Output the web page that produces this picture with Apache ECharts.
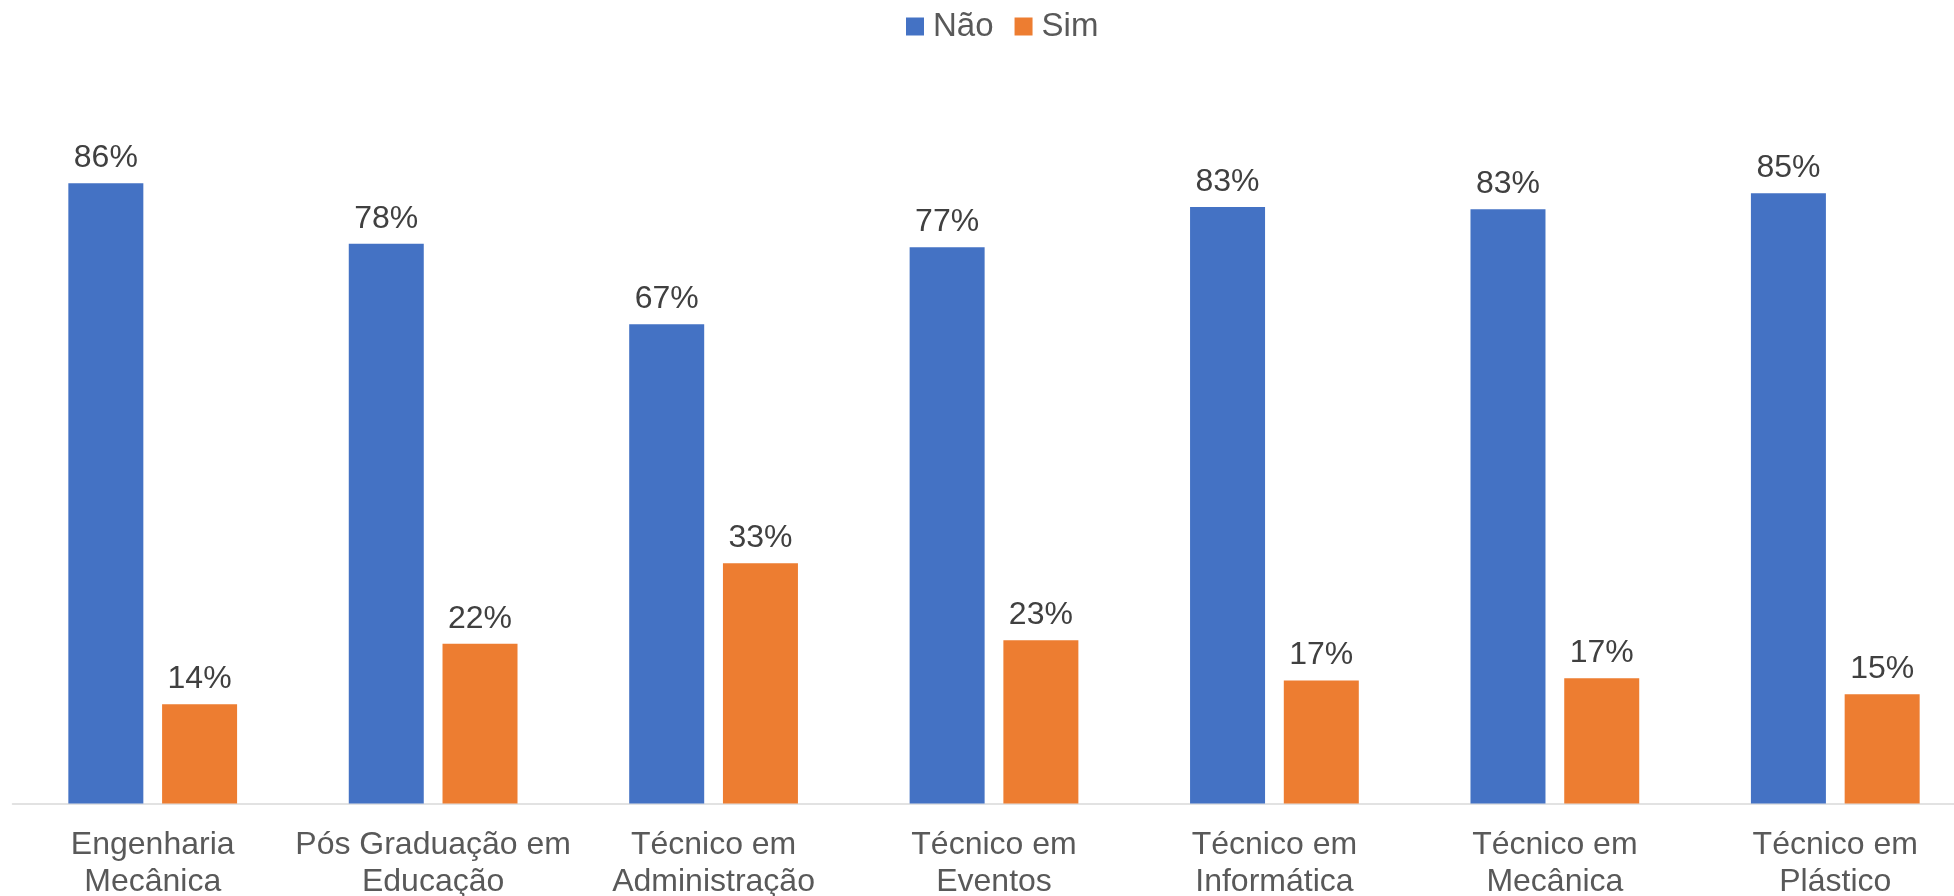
<!DOCTYPE html>
<html>
<head>
<meta charset="utf-8">
<script src="https://cdn.jsdelivr.net/npm/echarts@6/dist/echarts.min.js"></script>
<style>html,body{margin:0;padding:0;background:#fff;overflow:hidden;width:1954px;height:896px;}#c{width:1980px;height:896px;}</style>
</head>
<body>
<div id="c"></div>
<script>
const categories = ['Engenharia\nMecânica', 'Pós Graduação em\nEducação', 'Técnico em\nAdministração', 'Técnico em\nEventos', 'Técnico em\nInformática', 'Técnico em\nMecânica', 'Técnico em\nPlástico'];
const seriesNames = ['Não', 'Sim'];
const naoValues = [0.862, 0.778, 0.666, 0.773, 0.829, 0.826, 0.848];
const simValues = [0.138, 0.222, 0.334, 0.227, 0.171, 0.174, 0.152];
const yMin = 0, yMax = 1;

const FONT = "'Liberation Sans', Arial, sans-serif";
const chart = echarts.init(document.getElementById('c'), null, {renderer: 'canvas'});
const labelCfg = {
  show: true, position: 'top', distance: 9,
  color: '#404040', fontSize: 32, fontFamily: FONT,
  formatter: p => Math.round(p.value * 100) + '%'
};
chart.setOption({
  animation: false,
  backgroundColor: '#ffffff',
  legend: {
    data: seriesNames, left: 901, top: 5,
    itemWidth: 18, itemHeight: 18, itemGap: 21,
    icon: 'rect',
    textStyle: {color: '#595959', fontSize: 33, fontFamily: FONT, padding: [0, 0, 0, 4]}
  },
  grid: {left: 12.5, top: 84, width: 1963, height: 719.5, containLabel: false, outerBoundsMode: 'none'},
  xAxis: {
    type: 'category', data: categories,
    axisLine: {lineStyle: {color: '#D9D9D9', width: 1.5}},
    axisTick: {show: false},
    axisLabel: {color: '#595959', fontSize: 32, fontFamily: FONT, lineHeight: 37, margin: 23, interval: 0}
  },
  yAxis: {
    type: 'value', min: yMin, max: yMax, show: false,
    splitLine: {show: false}
  },
  series: [
    {name: seriesNames[0], type: 'bar', data: naoValues, barWidth: 75, barGap: '25%',
     itemStyle: {color: '#4472C4'}, label: labelCfg},
    {name: seriesNames[1], type: 'bar', data: simValues, barWidth: 75, barGap: '25%',
     itemStyle: {color: '#ED7D31'}, label: labelCfg}
  ]
});
</script>
</body>
</html>
